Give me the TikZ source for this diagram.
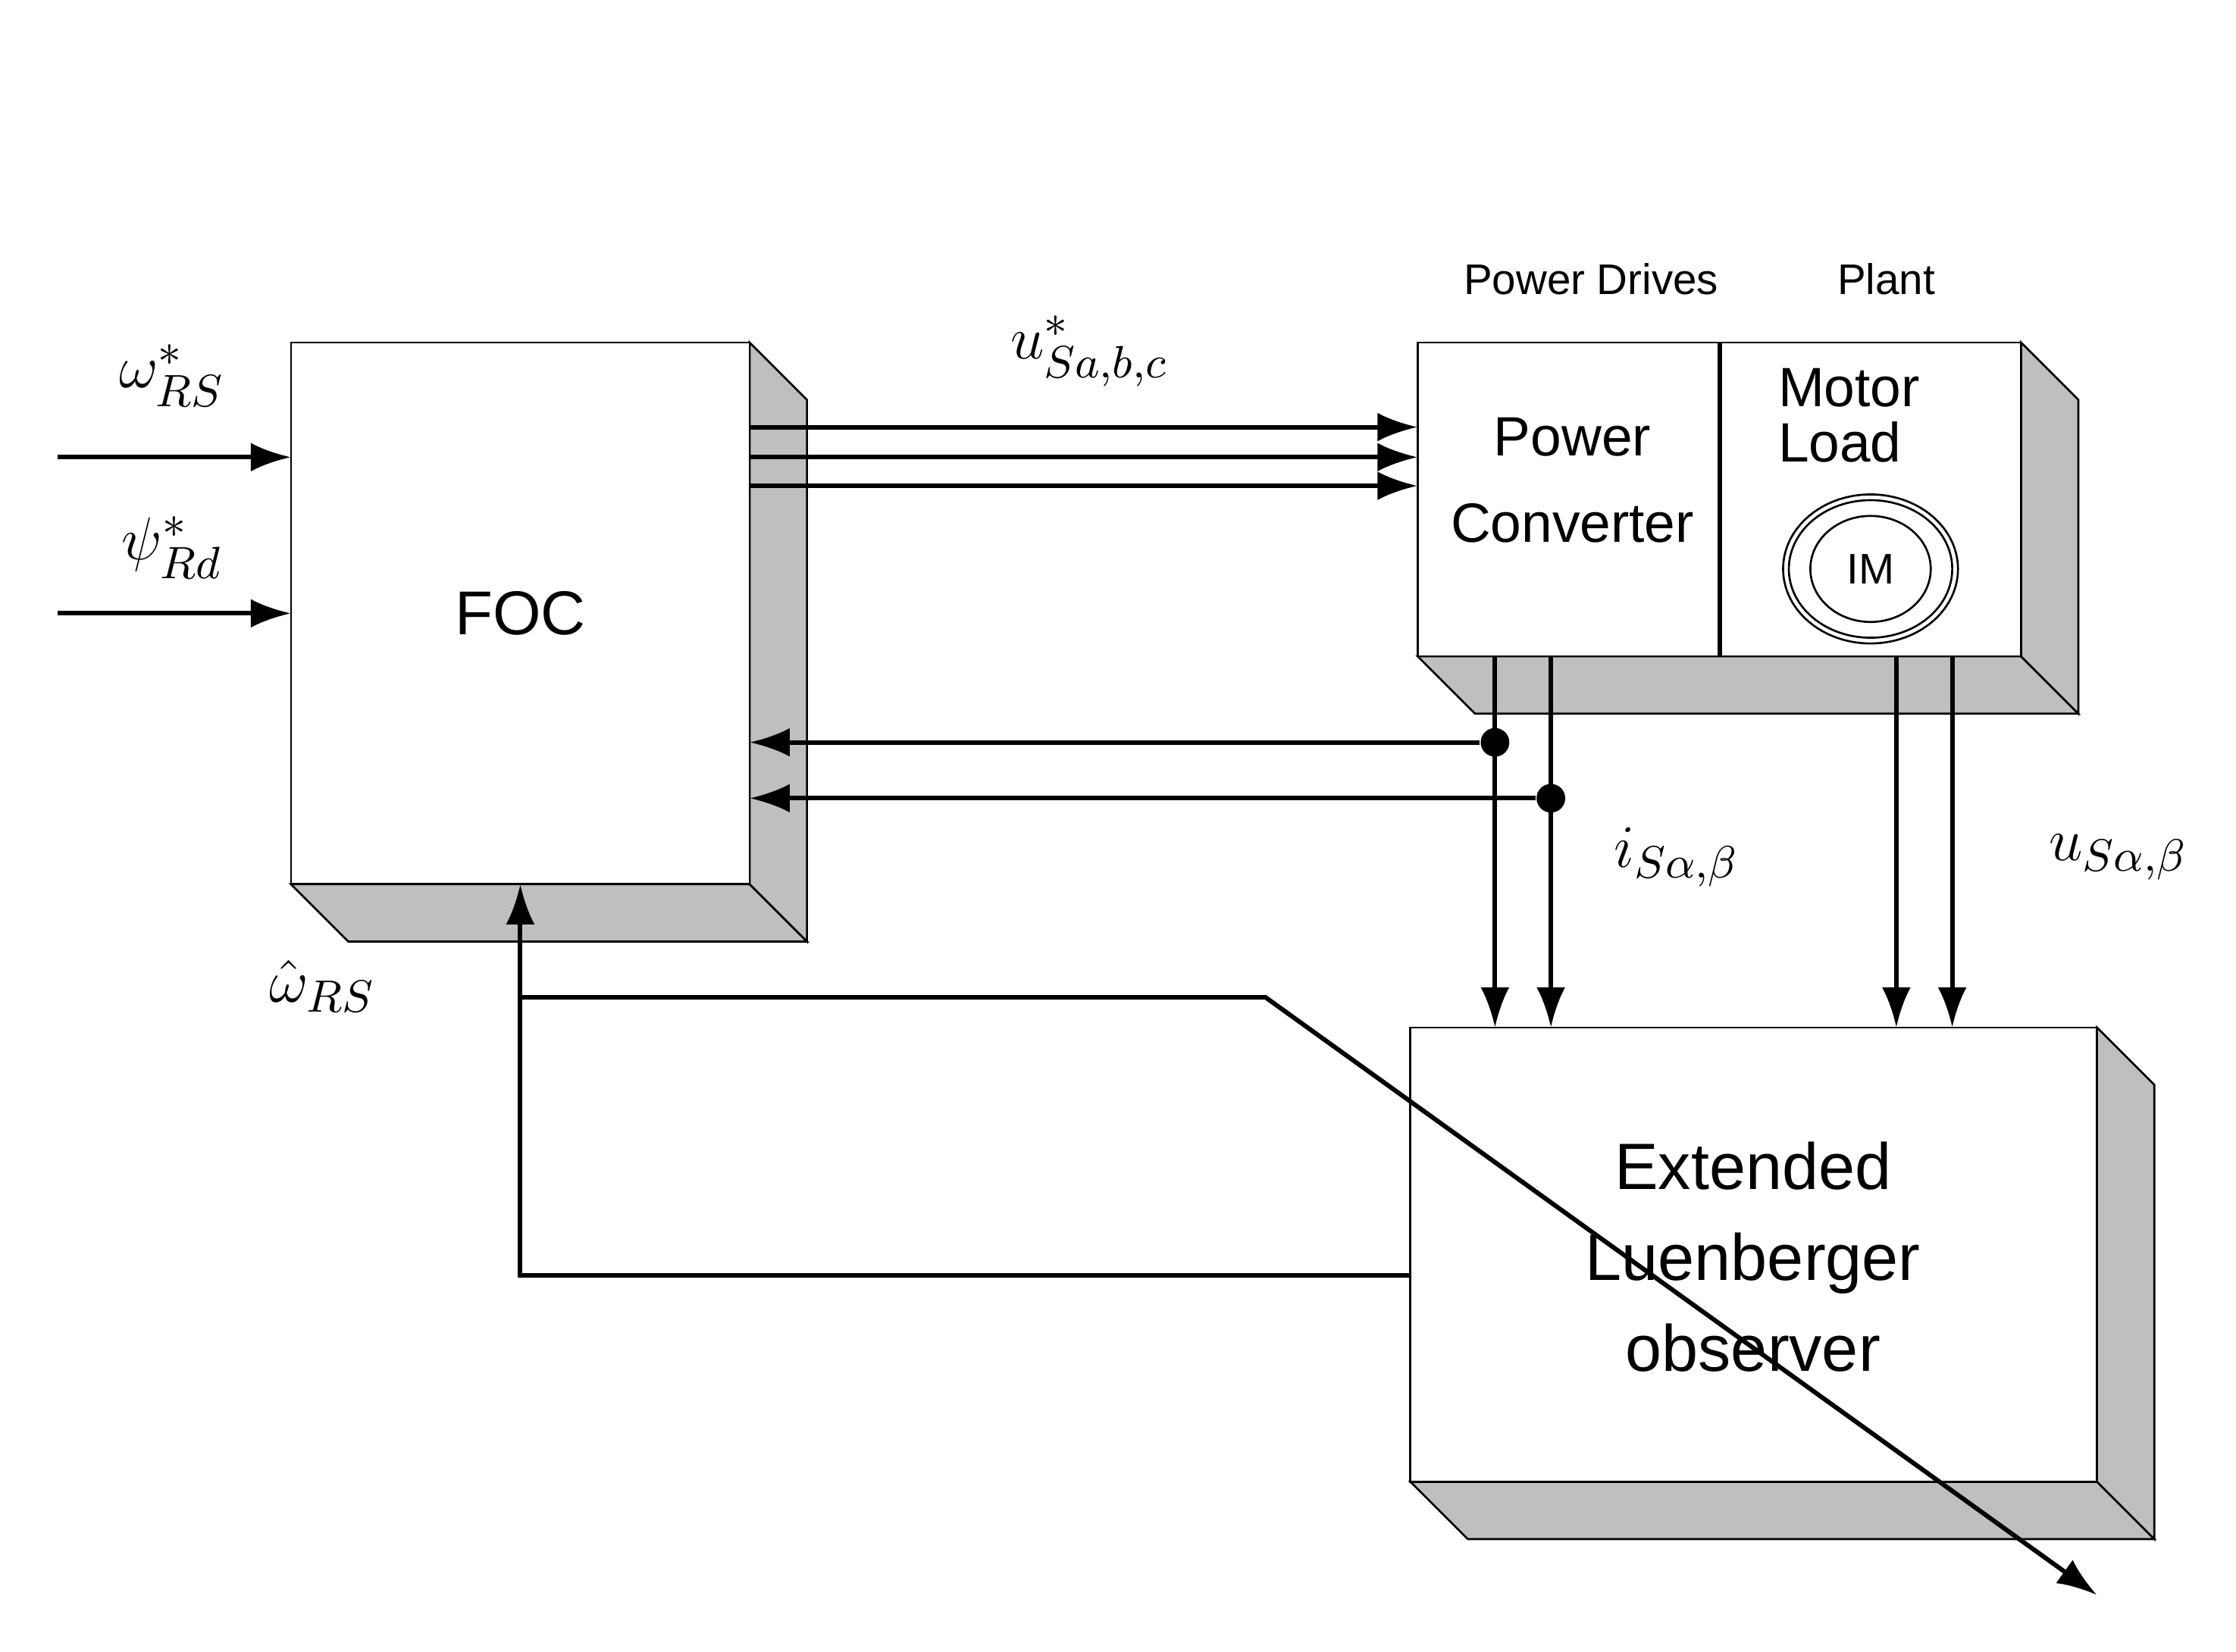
\documentclass[tikz,border=0pt]{standalone}
\usepackage{amsmath}
\usepackage{fontspec}
\setmainfont{Liberation Sans}
\usetikzlibrary{arrows.meta,calc}

\tikzset{
	sig/.style={line width=0.9pt},
	arr/.style={line width=0.9pt,-{Latex[length=0.28cm,width=0.2cm]}},
	face/.style={draw,line width=0.4pt,fill=white},
	shade/.style={draw,line width=0.4pt,fill=gray!50},
	dot/.style={circle,fill=black,inner sep=0pt,minimum size=0.2cm}
}
% box with shaded depth: #1 top left, #2 bottom right
\newcommand{\depthbox}[2]{
	\fill[shade] ($(#2)+(0,0)$) -- ($(#2)+(0.4,-0.4)$) -- ($(#1|-#2)+(0.4,-0.4)$) -- (#1|-#2) -- cycle;
	\fill[shade] (#2) -- ($(#2)+(0.4,-0.4)$) -- ($(#2-|#2)+(0.4,-0.4)$) -- ($(#2|-#1)+(0.4,-0.4)$) -- (#2|-#1) -- cycle;
	\draw[face] (#1) rectangle (#2);
}

\begin{document}
\begin{tikzpicture}
		\useasboundingbox (0,0) rectangle (15.6,-11.523);
		
		\coordinate (focTL) at (2.03,-2.39);
		\coordinate (focBR) at (5.23,-6.17);
		\coordinate (pwrTL) at (9.89,-2.39);
		\coordinate (pwrBR) at (14.10,-4.58);
		\coordinate (obsTL) at (9.84,-7.17);
		\coordinate (obsBR) at (14.63,-10.34);
		
		\depthbox{focTL}{focBR}
		\depthbox{pwrTL}{pwrBR}
		\depthbox{obsTL}{obsBR}
		\draw[sig] (12.00,-2.39) -- (12.00,-4.58);
		
		\node[font=\fontsize{12.3}{14}\selectfont] (foc) at (3.63,-4.28) {FOC};
		\node[font=\fontsize{11}{13}\selectfont] (pw) at (10.97,-3.05) {Power};
		\node[font=\fontsize{11}{13}\selectfont] (cv) at (10.97,-3.65) {Converter};
		\node[font=\fontsize{11}{13}\selectfont,align=left] (ml) at (12.90,-2.90) {Motor\\[-2pt]Load};
		\node[font=\fontsize{8.5}{10}\selectfont] (drv) at (11.10,-1.95) {Power Drives};
		\node[font=\fontsize{8.5}{10}\selectfont] (plt) at (13.16,-1.95) {Plant};
		\draw[line width=0.4pt] (13.05,-3.97) ellipse (0.61 and 0.52);
		\draw[line width=0.4pt] (13.05,-3.97) ellipse (0.57 and 0.48);
		\draw[line width=0.4pt] (13.05,-3.97) ellipse (0.42 and 0.37);
		\node[font=\fontsize{8.5}{10}\selectfont] (im) at (13.05,-3.97) {IM};
		\node[font=\fontsize{13}{18}\selectfont,align=center] (obs) at (12.23,-8.77) {Extended\\Luenberger\\observer};
		
		% references
		\coordinate (w0) at (0.40,-3.19);
		\coordinate (p0) at (0.40,-4.28);
		\draw[arr] (w0) -- (w0-|focTL);
		\draw[arr] (p0) -- (p0-|focTL);
		\node[font=\fontsize{13}{15}\selectfont] (wl) at (1.20,-2.62) {$\omega^{*}_{RS}$};
		\node[font=\fontsize{13}{15}\selectfont] (pl) at (1.20,-3.82) {$\psi^{*}_{Rd}$};
		
		% voltage references
		\foreach \y in {-2.98,-3.19,-3.39}
			\draw[arr] (5.23,\y) -- (9.89,\y);
		\node[font=\fontsize{13}{15}\selectfont] (ul) at (7.60,-2.45) {$u^{*}_{Sa,b,c}$};
		
		% measured currents
		\node[dot] (da) at (10.43,-5.18) {};
		\node[dot] (db) at (10.82,-5.57) {};
		\draw[arr] (da) -- (5.23,-5.18);
		\draw[arr] (db) -- (5.23,-5.57);
		\foreach \x in {10.43,10.82,13.23,13.62}
			\draw[arr] (\x,-4.58) -- (\x,-7.17);
		\node[font=\fontsize{13}{15}\selectfont] (il) at (11.70,-5.98) {$i_{S\alpha,\beta}$};
		\node[font=\fontsize{13}{15}\selectfont] (vl) at (14.78,-5.98) {$u_{S\alpha,\beta}$};
		
		% estimated speed
		\coordinate (fb) at (3.63,-8.90);
		\draw[arr] (obsTL|-fb) -- (fb) -- (3.63,-6.17);
		\coordinate (sp) at (3.63,-6.96);
		\coordinate (kn) at (8.83,-6.96);
		\coordinate (se) at (14.63,-11.13);
		\draw[arr] (sp) -- (kn) -- (se);
		\node[font=\fontsize{13}{15}\selectfont] (wh) at (2.25,-6.88) {$\hat{\omega}_{RS}$};
		
	\end{tikzpicture}
\end{document}
